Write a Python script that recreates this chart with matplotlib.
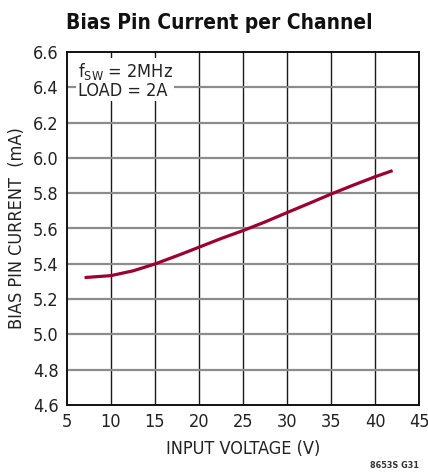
import numpy as np
import matplotlib.pyplot as plt
from matplotlib import font_manager

# Bias pin current vs input voltage (fSW = 2MHz, LOAD = 2A)
vin = [7, 10, 12.5, 15, 18, 20, 22.5, 25, 27.5, 30, 32.5, 35, 37.5, 40, 42]
ibias = [5.322, 5.333, 5.36, 5.399, 5.455, 5.494, 5.543, 5.588, 5.637, 5.69,
         5.742, 5.795, 5.845, 5.893, 5.928]

xticks = np.arange(5, 46, 5)
yticks = np.arange(4.6, 6.61, 0.2)

# look for a condensed face, else plain Liberation Sans
cond = [f for f in font_manager.fontManager.ttflist
        if f.stretch in ('condensed', 'semi-condensed', 'extra-condensed')
        or 'Narrow' in f.name or 'Condensed' in f.fname]
reg = [f for f in cond if f.weight in (400, 'normal', 'regular') and f.style == 'normal']
bold = [f for f in cond if f.weight in (700, 'bold') and f.style == 'normal']
if reg:
    fp = font_manager.FontProperties(fname=reg[0].fname)
else:
    fp = font_manager.FontProperties(family='Liberation Sans')
fpb = font_manager.FontProperties(fname=bold[0].fname) if bold else \
    font_manager.FontProperties(family='Liberation Sans', weight='bold')

fig = plt.figure(figsize=(4.28, 4.72), dpi=100)
ax = fig.add_axes([67 / 428, 67 / 472, 352 / 428, 353 / 472])

ax.plot(vin, ibias, color='#9b0033', lw=2.3, solid_capstyle='butt', zorder=3)

ax.set_xlim(5, 45)
ax.set_ylim(4.6, 6.6)
ax.set_xticks(xticks)
ax.set_yticks(yticks)
ax.set_xticklabels([str(v) for v in xticks], fontproperties=fp, fontsize=13)
ax.set_yticklabels(['%.1f' % v for v in yticks], fontproperties=fp, fontsize=13)
ax.tick_params(length=0, colors='#222222', pad=6)

for x in xticks[1:-1]:
    ax.axvline(x, color='#1a1a1a', lw=1.0, zorder=1)
for y in yticks[1:-1]:
    ax.axhline(y, color='#8c8c8c', lw=1.6, zorder=1)
for s in ax.spines.values():
    s.set_linewidth(1.4)
    s.set_color('#111111')

ax.set_xlabel('INPUT VOLTAGE (V)', fontproperties=fp, fontsize=13, color='#222222', labelpad=6)
ax.set_ylabel('BIAS PIN CURRENT  (mA)', fontproperties=fp, fontsize=13, color='#222222', labelpad=5)

ax.text(0.03, 0.975, 'f$_\\mathregular{SW}$ = 2MHz\nLOAD = 2A', transform=ax.transAxes,
        ha='left', va='top', fontproperties=fp, fontsize=13, color='#222222', linespacing=1.0,
        bbox=dict(facecolor='white', edgecolor='none', pad=1), zorder=4)

fig.text(66 / 428, 1 - 23 / 472, 'Bias Pin Current per Channel', fontproperties=fpb,
         fontsize=15, ha='left', va='center', color='#111111')
fig.text(394 / 428, 1 - 466 / 472, '8653S G31', fontproperties=fpb, fontsize=6.5,
         ha='center', va='center', color='#333333')

fig.savefig('out.png', dpi=100)
